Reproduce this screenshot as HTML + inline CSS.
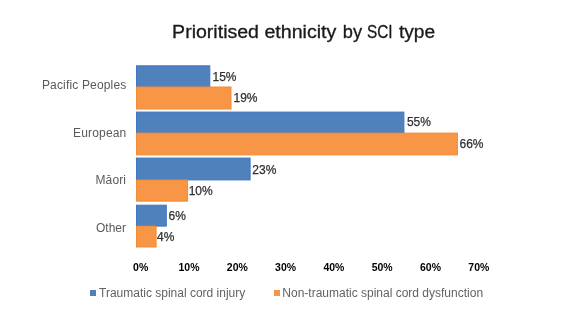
<!DOCTYPE html>
<html><head><meta charset="utf-8">
<style>
html,body{margin:0;padding:0;background:#fff;}
body{width:584px;height:314px;overflow:hidden;}
svg{display:block;filter:blur(0.35px);}
text{font-family:"Liberation Sans",sans-serif;}
.b{fill:#4F81BD;stroke:#3D76C2;}
.o{fill:#F79646;stroke:#F58A33;}
</style></head>
<body>
<svg width="584" height="314" viewBox="0 0 584 314">
<rect x="0" y="0" width="584" height="314" fill="#fff"/>
<g font-size="18" fill="#1a1a1a" stroke="#1a1a1a" stroke-width="0.3">
<text x="172.1" y="38.2" textLength="86.9" lengthAdjust="spacingAndGlyphs">Prioritised</text>
<text x="264.4" y="38.2" textLength="72" lengthAdjust="spacingAndGlyphs">ethnicity</text>
<text x="342.8" y="38.2" textLength="19.3" lengthAdjust="spacingAndGlyphs">by</text>
<text x="366.9" y="38.2" textLength="25.6" lengthAdjust="spacingAndGlyphs">SCI</text>
<text x="398.9" y="38.2" textLength="36.2" lengthAdjust="spacingAndGlyphs">type</text>
</g>
<g fill="#595959" font-size="12" text-anchor="end">
<text x="126.3" y="89.1" textLength="84.4">Pacific Peoples</text>
<text x="126.3" y="137" textLength="53.2">European</text>
<text x="126" y="184.1" textLength="30.5">Māori</text>
<text x="126" y="231.5">Other</text>
</g>
<g stroke-width="1">
<rect class="b" x="136.5" y="65.80" width="73.3" height="21.10"/>
<rect class="o" x="136.5" y="87.00" width="94.5" height="22.00"/>
<rect class="b" x="136.5" y="112.10" width="267.4" height="20.90"/>
<rect class="o" x="136.5" y="133.10" width="320.9" height="21.80"/>
<rect class="b" x="136.5" y="158.10" width="113.6" height="21.80"/>
<rect class="o" x="136.5" y="180.00" width="51.1" height="21.15"/>
<rect class="b" x="136.5" y="205.20" width="29.8" height="20.90"/>
<rect class="o" x="136.5" y="226.20" width="19.6" height="20.80"/>
</g>
<g fill="#303030" stroke="#303030" stroke-width="0.25" font-size="12">
<text x="212.5" y="80.8">15%</text>
<text x="233.5" y="101.8">19%</text>
<text x="406.9" y="125.8">55%</text>
<text x="459.5" y="147.7">66%</text>
<text x="252.3" y="173.6">23%</text>
<text x="188.7" y="194.9">10%</text>
<text x="168.5" y="219.9">6%</text>
<text x="157" y="241">4%</text>
</g>
<g fill="#000" font-size="11" font-weight="bold" text-anchor="middle">
<text x="140.7" y="270.8" textLength="15.2" lengthAdjust="spacingAndGlyphs">0%</text>
<text x="189" y="270.8" textLength="21" lengthAdjust="spacingAndGlyphs">10%</text>
<text x="237.3" y="270.8" textLength="21" lengthAdjust="spacingAndGlyphs">20%</text>
<text x="285.6" y="270.8" textLength="21" lengthAdjust="spacingAndGlyphs">30%</text>
<text x="333.9" y="270.8" textLength="21" lengthAdjust="spacingAndGlyphs">40%</text>
<text x="382.2" y="270.8" textLength="21" lengthAdjust="spacingAndGlyphs">50%</text>
<text x="430.5" y="270.8" textLength="21" lengthAdjust="spacingAndGlyphs">60%</text>
<text x="478.8" y="270.8" textLength="21" lengthAdjust="spacingAndGlyphs">70%</text>
</g>
<rect x="90" y="290" width="6" height="6" fill="#4F81BD"/>
<rect x="274" y="290" width="6" height="6" fill="#F79646"/>
<g fill="#636363" font-size="12">
<text x="99" y="296.8">Traumatic spinal cord injury</text>
<text x="282.3" y="296.8">Non-traumatic spinal cord dysfunction</text>
</g>
</svg>
</body></html>
